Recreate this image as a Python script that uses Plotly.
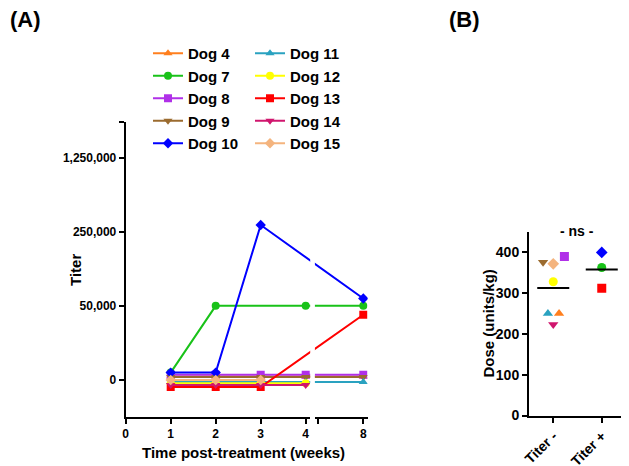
import plotly.graph_objects as go

W, H = 629, 466
OFF = 8  # page body margin in the browser

# ---------------- data: panel A (titer over time) ----------------
weeks = [1, 2, 3, 4, 8]
dog_names = ["Dog 4", "Dog 7", "Dog 8", "Dog 9", "Dog 10",
             "Dog 11", "Dog 12", "Dog 13", "Dog 14", "Dog 15"]
titer_dog4 = [2400, 2400, 2400, 2400, 2400]
titer_dog7 = [5000, 50000, None, 50000, 50000]
titer_dog8 = [3600, 3600, 3600, 3600, 3600]
titer_dog9 = [2000, 2000, 2000, 2000, 2000]
titer_dog10 = [5000, 5000, 340000, None, 70000]
titer_dog11 = [-1400, -1400, -1400, -1400, -1400]
titer_dog12 = [-2200, -2200, -2200, -2200, None]
titer_dog13 = [-4700, -4700, -4700, None, 44000]
titer_dog14 = [-3300, -3300, -3300, -3300, None]
titer_dog15 = [0, 0, 0, None, None]
titer_series = [titer_dog4, titer_dog7, titer_dog8, titer_dog9, titer_dog10,
                titer_dog11, titer_dog12, titer_dog13, titer_dog14, titer_dog15]

titer_ticks = [0, 50000, 250000, 1250000]
titer_tick_labels = ["0", "50,000", "250,000", "1,250,000"]
week_ticks_a = [0, 1, 2, 3, 4]
week_ticks_b = [7, 8]
week_tick_labels_b = ["", "8"]

# ---------------- data: panel B (dose by titer group) ----------------
groups = ["Titer -", "Titer +"]
dose_neg_dogs = ["Dog 4", "Dog 8", "Dog 9", "Dog 11", "Dog 12", "Dog 14", "Dog 15"]
dose_neg = [250, 390, 376, 250, 328, 223, 372]
dose_pos_dogs = ["Dog 7", "Dog 10", "Dog 13"]
dose_pos = [363, 400, 312]
dose_ticks = [0, 100, 200, 300, 400]

# ---------------- styles ----------------
colors = {"Dog 4": "#FF7F1E", "Dog 7": "#19C219", "Dog 8": "#B030E8",
          "Dog 9": "#9B6B2F", "Dog 10": "#0000FF", "Dog 11": "#2AA2C0",
          "Dog 12": "#FFFF00", "Dog 13": "#FF0000", "Dog 14": "#D0166E",
          "Dog 15": "#F4B47E"}
symbols = {"Dog 4": "triangle-up", "Dog 7": "circle", "Dog 8": "square",
           "Dog 9": "triangle-down", "Dog 10": "diamond", "Dog 11": "triangle-up",
           "Dog 12": "circle", "Dog 13": "square", "Dog 14": "triangle-down",
           "Dog 15": "diamond"}
jitter_neg = [0.12, 0.23, -0.21, -0.11, 0.0, 0.0, 0.0]
jitter_pos = [0.0, 0.0, 0.0]

FONT = "Liberation Sans, Arial, sans-serif"


def px(x):
    return (x - OFF) / W


def py(y):
    return 1 - (y - OFF) / H


def seg_scale(v):
    """Segmented titer axis: 0-50k, 50k-250k, 250k-1.25M each one unit."""
    if v is None:
        return None
    if v <= 50000:
        return v / 50000
    if v <= 250000:
        return 1 + (v - 50000) / 200000
    return 2 + (v - 250000) / 1000000


BREAK_AT = 4        # last week before the axis break
BREAK_SHIFT = 2.72  # weeks removed by the break


def week_scale(w):
    return w if w <= BREAK_AT else w - BREAK_SHIFT


PXW = 45.0  # pixels per week
X0 = 125.7
seg1_end = 310.2
seg2_start, seg2_end = 314.9, 367.7

fig = go.Figure()

y_top = 3.48
xw = [week_scale(w) for w in weeks]
for k, (name, vals) in enumerate(zip(dog_names, titer_series)):
    yv = [seg_scale(v) for v in vals]
    legend_id = "legend" if k < 5 else "legend2"
    common = dict(x=xw, y=yv, mode="lines+markers", connectgaps=True,
                  line=dict(color=colors[name], width=2),
                  marker=dict(color=colors[name], symbol=symbols[name], size=8,
                              line=dict(width=0)))
    fig.add_trace(go.Scatter(name=name, xaxis="x", yaxis="y",
                             legend=legend_id, showlegend=True, **common))
    fig.add_trace(go.Scatter(name=name, xaxis="x2", yaxis="y",
                             showlegend=False, **common))

# panel B points
for i, (dogs, doses, jit) in enumerate([(dose_neg_dogs, dose_neg, jitter_neg),
                                        (dose_pos_dogs, dose_pos, jitter_pos)]):
    for d, v, j in zip(dogs, doses, jit):
        fig.add_trace(go.Scatter(x=[i + j], y=[v], mode="markers", xaxis="x3",
                                 yaxis="y3", showlegend=False,
                                 marker=dict(color=colors[d], symbol=symbols[d],
                                             size=9, line=dict(width=0))))
    mean = sum(doses) / len(doses)
    fig.add_trace(go.Scatter(x=[i - 0.33, i + 0.33], y=[mean, mean], mode="lines",
                             xaxis="x3", yaxis="y3", showlegend=False,
                             line=dict(color="black", width=2)))

axis_common = dict(showline=True, linecolor="black", linewidth=2, ticks="outside",
                   ticklen=5, tickwidth=1.5, tickcolor="black", showgrid=False,
                   zeroline=False, fixedrange=True)
tickA = dict(family=FONT, size=12, color="black", weight="bold")
tickB = dict(family=FONT, size=14, color="black", weight="bold")
legfont = dict(family=FONT, size=15, color="black", weight="bold")

fig.update_layout(
    width=W, height=H, margin=dict(l=0, r=0, t=0, b=0, autoexpand=False),
    paper_bgcolor="white", plot_bgcolor="white",
    font=dict(family=FONT, color="black"),
    xaxis=dict(domain=[px(X0), px(seg1_end)], range=[0, (seg1_end - X0) / PXW],
               anchor="y", tickvals=[week_scale(w) for w in week_ticks_a],
               ticktext=[str(w) for w in week_ticks_a], tickfont=tickA,
               **axis_common),
    xaxis2=dict(domain=[px(seg2_start), px(seg2_end)],
                range=[(seg2_start - X0) / PXW, (seg2_end - X0) / PXW], anchor="y",
                tickvals=[week_scale(w) for w in week_ticks_b],
                ticktext=week_tick_labels_b, tickfont=tickA, **axis_common),
    yaxis=dict(domain=[py(416.7), py(122)], range=[-0.495, y_top], anchor="x",
               tickvals=[seg_scale(t) for t in titer_ticks] + [y_top],
               ticktext=titer_tick_labels + [""], tickfont=tickA, **axis_common),
    xaxis3=dict(domain=[px(529), px(626)], range=[-0.5, 1.5], anchor="y3",
                tickvals=[0, 1], ticktext=groups, tickangle=-45, tickfont=tickB,
                **axis_common),
    yaxis3=dict(domain=[py(415.5), py(232)], range=[0, 450], anchor="x3",
                tickvals=dose_ticks, tickfont=tickB, **axis_common),
    legend=dict(x=px(148), y=py(37), xanchor="left", yanchor="top", font=legfont,
                bgcolor="rgba(0,0,0,0)", itemwidth=30, tracegroupgap=0),
    legend2=dict(x=px(250), y=py(37), xanchor="left", yanchor="top", font=legfont,
                 bgcolor="rgba(0,0,0,0)", itemwidth=30, tracegroupgap=0),
    showlegend=True,
)

ann = [
    dict(text="(A)", x=0, y=py(20), xanchor="left", font=dict(size=22, weight="bold")),
    dict(text="(B)", x=px(464), y=py(20), font=dict(size=22, weight="bold")),
    dict(text="Titer", x=px(75), y=py(270), textangle=-90,
         font=dict(size=15, weight="bold")),
    dict(text="Time post-treatment (weeks)", x=px(243), y=py(452),
         font=dict(size=15, weight="bold")),
    dict(text="Dose (units/kg)", x=px(488), y=py(323.5), textangle=-90,
         font=dict(size=15, weight="bold")),
    dict(text="- ns -", x=px(577), y=py(231), font=dict(size=14, weight="bold")),
]
for a in ann:
    a.setdefault("xanchor", "center")
    a.update(xref="paper", yref="paper", showarrow=False, yanchor="middle")
    a["font"].update(family=FONT, color="black")
fig.update_layout(annotations=ann)

fig.write_html("out.html")
